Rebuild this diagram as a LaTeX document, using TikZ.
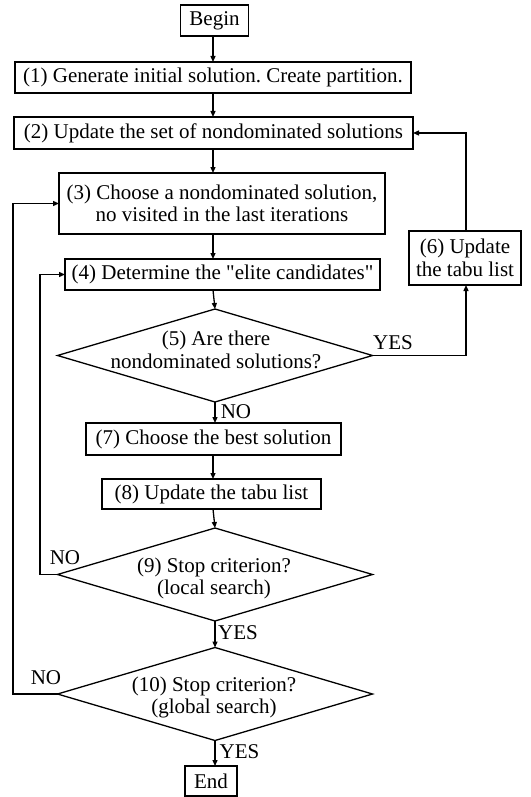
\documentclass[tikz,border=0pt]{standalone}
\usepackage{fontspec}
\setmainfont{Liberation Serif}[Ligatures=TeXOff]
\usetikzlibrary{shapes.geometric,arrows.meta}
\frenchspacing
\tikzset{
  box/.style={draw, line width=1.3pt, inner sep=0pt, outer sep=0pt, align=center,
    font=\fontsize{21}{22.5}\selectfont},
  decision/.style={draw, diamond, inner sep=0pt, outer sep=0pt,
    minimum width=315pt, minimum height=93pt, line width=1.3pt},
  flow/.style={line width=1.3pt, -{Triangle[length=6pt,width=5pt]}},
  tag/.style={inner sep=0pt, align=center, font=\fontsize{21}{22.5}\selectfont}
}

\begin{document}
\begin{tikzpicture}[x=1pt,y=-1pt]
  %%%%% START %%%%%
  \useasboundingbox (0,0) rectangle (530,797);

  \node[box, minimum width=68pt, minimum height=31pt] (begin) at (214.5,20.5) {Begin};
  \node[box, minimum width=396pt, minimum height=31pt] (b1) at (213,77.5) {(1) Generate initial solution. Create partition.};
  \node[box, minimum width=399pt, minimum height=32pt] (b2) at (213.5,133) {(2) Update the set of nondominated solutions};
  \node[box, minimum width=326pt, minimum height=61pt] (b3) at (222,203.5) {(3) Choose a nondominated solution,\\no visited in the last iterations};
  \node[box, minimum width=315pt, minimum height=31pt] (b4) at (222.5,274.5) {(4) Determine the "elite candidates"};
  \node[decision] (d5) at (215,355.5) {};
  \node[box, minimum width=112pt, minimum height=54pt] (b6) at (465,258) {(6) Update\\the tabu list};
  \node[box, minimum width=255pt, minimum height=32pt] (b7) at (213.5,439) {(7) Choose the best solution};
  \node[box, minimum width=219pt, minimum height=30pt] (b8) at (211.5,494) {(8) Update the tabu list};
  \node[decision] (d9) at (215,574.5) {};
  \node[decision] (d10) at (215,694) {};
  \node[box, minimum width=52pt, minimum height=30pt] (end) at (211,781) {End};

  % questions inside the diamonds
  \node[tag] (q5) at (216,350) {(5) Are there\\nondominated solutions?};
  \node[tag] (q9) at (214,578.5) {(9) Stop criterion?\\(local search)};
  \node[tag] (q10) at (214,697.5) {(10) Stop criterion?\\(global search)};

  \coordinate (col) at (213,0);
  \coordinate (r6) at (466,0);
  \coordinate (l9) at (40,0);
  \coordinate (l10) at (13,0);

  % main column
  \draw[flow] (begin.south -| col) -- (b1.north -| col);
  \draw[flow] (b1.south -| col) -- (b2.north -| col);
  \draw[flow] (b2.south -| col) -- (b3.north -| col);
  \draw[flow] (b3.south -| col) -- (b4.north -| col);
  \draw[flow] (b4.south -| col) -- (d5.north);
  \draw[flow] (d5.south) -- (d5.south |- b7.north);
  \draw[flow] (b7.south -| col) -- (b8.north -| col);
  \draw[flow] (b8.south -| col) -- (d9.north);
  \draw[flow] (d9.south) -- (d10.north);
  \draw[flow] (d10.south) -- (d10.south |- end.north);

  % tabu loop on the right
  \draw[flow] (d5.east) -- (d5.east -| r6) -- (b6.south -| r6);
  \draw[flow] (b6.north -| r6) -- (b2.east -| r6) -- (b2.east);

  % loops on the left
  \draw[flow] (d9.west) -- (d9.west -| l9) -- (b4.west -| l9) -- (b4.west);
  \draw[flow] (d10.west) -- (d10.west -| l10) -- (b3.west -| l10) -- (b3.west);

  % answers
  \node[tag] (yes5) at (393,343) {YES};
  \node[tag] (no5) at (236,412) {NO};
  \node[tag] (no9) at (65,558) {NO};
  \node[tag] (yes9) at (238,633) {YES};
  \node[tag] (no10) at (46,678) {NO};
  \node[tag] (yes10) at (239.5,752) {YES};
  %%%%% END %%%%%
\end{tikzpicture}
\end{document}
